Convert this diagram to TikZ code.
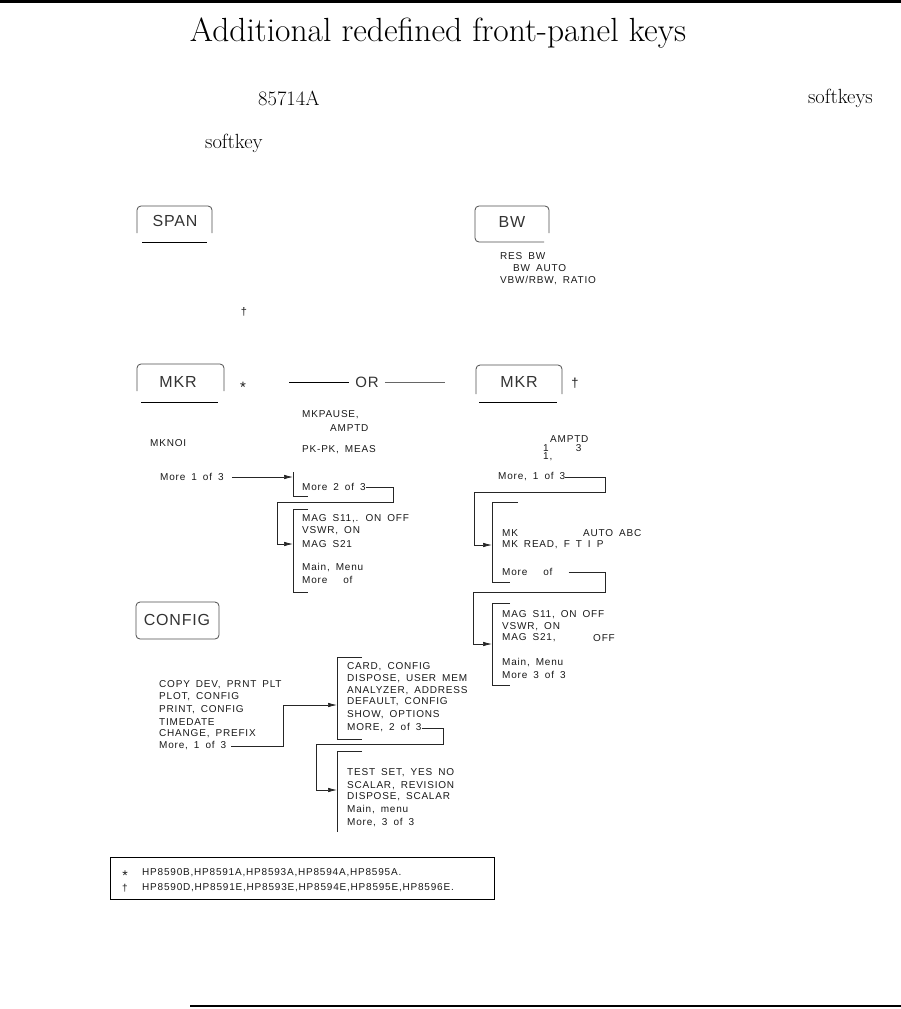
\documentclass[tikz,border=0pt]{standalone}
\usepackage{fontspec}
\usepackage{tikz}
\usetikzlibrary{arrows.meta, positioning, calc}
\newfontfamily\plotfont[LetterSpace=8]{Liberation Sans}
\newfontfamily\keyfont[LetterSpace=5]{Liberation Sans}

\begin{document}
\begin{tikzpicture}[x=1pt, y=-1pt,
	menu/.style={font=\plotfont\fontsize{10}{12}\selectfont, execute at begin node={\spaceskip=6pt\relax}, anchor=west, inner sep=0pt, text=black!90},
	keytext/.style={font=\keyfont\fontsize{16}{18}\selectfont, inner sep=0pt, text=black!80},
	keyframe/.style={draw=black!70, line width=0.8pt, rounded corners=4pt},
	keyline/.style={draw=black, line width=0.9pt},
	bracket/.style={draw=black!85, line width=0.7pt},
	link/.style={draw=black!85, line width=0.7pt, -{Latex[length=9pt, width=4.5pt]}}]
	\useasboundingbox (0,0) rectangle (901,1009);
	% page rules
	\draw[line width=3pt] (0,1.5) -- (901,1.5);
	\draw[line width=2.5pt] (190,1006) -- (901,1006);
	% heading and text fragments
	\node[font=\fontsize{33.5}{36}\selectfont] (title) at (438,33) {Additional redefined front-panel keys};
	\node[font=\fontsize{20.5}{24}\selectfont, anchor=west, inner sep=0pt] (model) at (258,98) {85714A};
	\node[font=\fontsize{20.5}{24}\selectfont, anchor=east, inner sep=0pt] (softkeys) at (873,98) {softkeys};
	\node[font=\fontsize{20.5}{24}\selectfont, anchor=west, inner sep=0pt] (softkey) at (205,143) {softkey};

	% SPAN key
	\node[keytext] (span) at (175,221) {SPAN};
	\draw[keyframe] (137,233) -- (137,206) -- (212,206) -- (212,233);
	\draw[keyline] (142,242) -- (207,242);
	\node[menu, anchor=center, font=\plotfont\fontsize{11}{12}\selectfont] (spandag) at (244,312) {†};

	% BW key
	\node[keytext] (bw) at (512,222) {BW};
	\draw[keyframe] (549,233) -- (549,206) -- (475,206) -- (475,242) -- (544,242);
	\node[menu] (resbw) at (500,256) {RES BW};
	\node[menu] (bwauto) at (513,268) {BW AUTO};
	\node[menu] (vbwrbw) at (500,281) {VBW/RBW, RATIO};

	% MKR key, first family
	\node[keytext] (mkra) at (178,382) {MKR};
	\draw[keyframe] (137,391) -- (137,364) -- (224,364) -- (224,391);
	\draw[keyline] (141,402) -- (218,402);
	\node[menu, anchor=center, font=\plotfont\fontsize{15}{15}\selectfont] (star) at (243,387) {*};

	% OR divider
	\node[keytext, font=\keyfont\fontsize{15}{18}\selectfont] (or) at (367,382) {OR};
	\draw[line width=0.8pt] (289,382) -- ([xshift=-6pt]or.west);
	\draw[line width=0.6pt, black!60] ([xshift=6pt]or.east) -- (445,382);

	% MKR key, second family
	\node[keytext] (mkrb) at (519,382) {MKR};
	\draw[keyframe] (476,394) -- (476,365) -- (562,365) -- (562,394);
	\draw[keyline] (479,402) -- (557,402);
	\node[menu, anchor=center, font=\plotfont\fontsize{13}{14}\selectfont] (mkrdag) at (575,383) {†};

	% MKR menus, first family
	\node[menu] (mkpause) at (302,415) {MKPAUSE,};
	\node[menu] (amptda) at (330,428) {AMPTD};
	\node[menu] (mknoi) at (150,443) {MKNOI};
	\node[menu] (pkpk) at (302,450) {PK-PK, MEAS};
	\node[menu] (moreAa) at (160,477) {More 1 of 3};
	\coordinate (inAb) at (293,477);
	\draw[bracket] (293,472) -- (293,496) -- (308,496);
	\node[menu] (moreAb) at (302,487) {More 2 of 3};
	\draw[link, shorten <=8pt] (moreAa.east) -- (moreAa.east -| inAb);
	\coordinate (inAc) at (293,544);
	\draw[bracket] (308,509) -- (293,509) -- (293,592) -- (308,592);
	\node[menu] (magsa) at (302,519) {MAG S11,. ON OFF};
	\node[menu] (vswra) at (302,531) {VSWR, ON};
	\node[menu] (magsb) at (302,544) {MAG S21};
	\node[menu] (mainA) at (302,568) {Main, Menu};
	\node[menu] (moreAc) at (302,580) {More \quad of};
	\draw[link] (moreAb.east) -| (393,502) -| (277,544) -- (inAc);

	% MKR menus, second family
	\node[menu] (amptdb) at (550,439) {AMPTD};
	\node[menu] (onethree) at (543,448) {1\hspace{27pt}3};
	\node[menu] (onecomma) at (543,457) {1,};
	\node[menu] (moreBa) at (498,477) {More, 1 of 3};
	\coordinate (inBb) at (492,545);
	\draw[bracket] (518,502) -- (492,502) -- (492,582) -- (510,582);
	\node[menu] (mk) at (502,533) {MK};
	\node[menu] (autoabc) at (583,533) {AUTO ABC};
	\node[menu] (mkread) at (502,545) {MK READ, F T I P};
	\node[menu] (moreBb) at (502,572) {More \quad of};
	\draw[link] (moreBa.east) -| (605,492) -| (474,545) -- (inBb);
	\coordinate (inBc) at (492,644);
	\draw[bracket] (510,603) -- (492,603) -- (492,685) -- (510,685);
	\node[menu] (magsc) at (502,615) {MAG S11, ON OFF};
	\node[menu] (vswrb) at (502,627) {VSWR, ON};
	\node[menu] (magsd) at (502,638) {MAG S21,};
	\node[menu] (offb) at (593,638) {OFF};
	\node[menu] (mainB) at (502,663) {Main, Menu};
	\node[menu] (moreBc) at (502,675) {More 3 of 3};
	\draw[link, shorten <=16pt] (moreBb.east) -| (605,592) -| (473,644) -- (inBc);

	% CONFIG key
	\node[keytext] (config) at (177,620) {CONFIG};
	\draw[keyframe] (136,602) rectangle (219,639);

	% CONFIG menus
	\node[menu] (copydev) at (159,685) {COPY DEV, PRNT PLT};
	\node[menu] (plotcfg) at (159,697) {PLOT, CONFIG};
	\node[menu] (printcfg) at (159,710) {PRINT, CONFIG};
	\node[menu] (timedate) at (159,722) {TIMEDATE};
	\node[menu] (prefix) at (159,734) {CHANGE, PREFIX};
	\node[menu] (moreCa) at (159,746) {More, 1 of 3};
	\coordinate (inCb) at (337,705);
	\draw[bracket] (362,657) -- (337,657) -- (337,739) -- (362,739);
	\node[menu] (card) at (347,667) {CARD, CONFIG};
	\node[menu] (usermem) at (347,679) {DISPOSE, USER MEM};
	\node[menu] (address) at (347,691) {ANALYZER, ADDRESS};
	\node[menu] (default) at (347,702) {DEFAULT, CONFIG};
	\node[menu] (options) at (347,715) {SHOW, OPTIONS};
	\node[menu] (moreCb) at (347,728) {MORE, 2 of 3};
	\draw[link, shorten <=5pt] (moreCa.east) -| (283,705) -- (inCb);
	\coordinate (inCc) at (337,790);
	\draw[bracket] (362,751) -- (337,751) -- (337,832);
	\node[menu] (testset) at (347,773) {TEST SET, YES NO};
	\node[menu] (revision) at (347,786) {SCALAR, REVISION};
	\node[menu] (scalar) at (347,797) {DISPOSE, SCALAR};
	\node[menu] (mainC) at (347,810) {Main, menu};
	\node[menu] (moreCc) at (347,823) {More, 3 of 3};
	\draw[link] (moreCb.east) -| (443,744) -| (316,790) -- (inCc);

	% footnotes
	\draw[line width=0.8pt] (110,857) rectangle (494,899);
	\node[menu, anchor=center, font=\plotfont\fontsize{14}{14}\selectfont] (fnstar) at (125,876) {*};
	\node[menu] (fnA) at (142,873) {HP8590B,HP8591A,HP8593A,HP8594A,HP8595A.};
	\node[menu, anchor=center] (fndag) at (125,888) {†};
	\node[menu] (fnB) at (142,888) {HP8590D,HP8591E,HP8593E,HP8594E,HP8595E,HP8596E.};
\end{tikzpicture}
\end{document}
